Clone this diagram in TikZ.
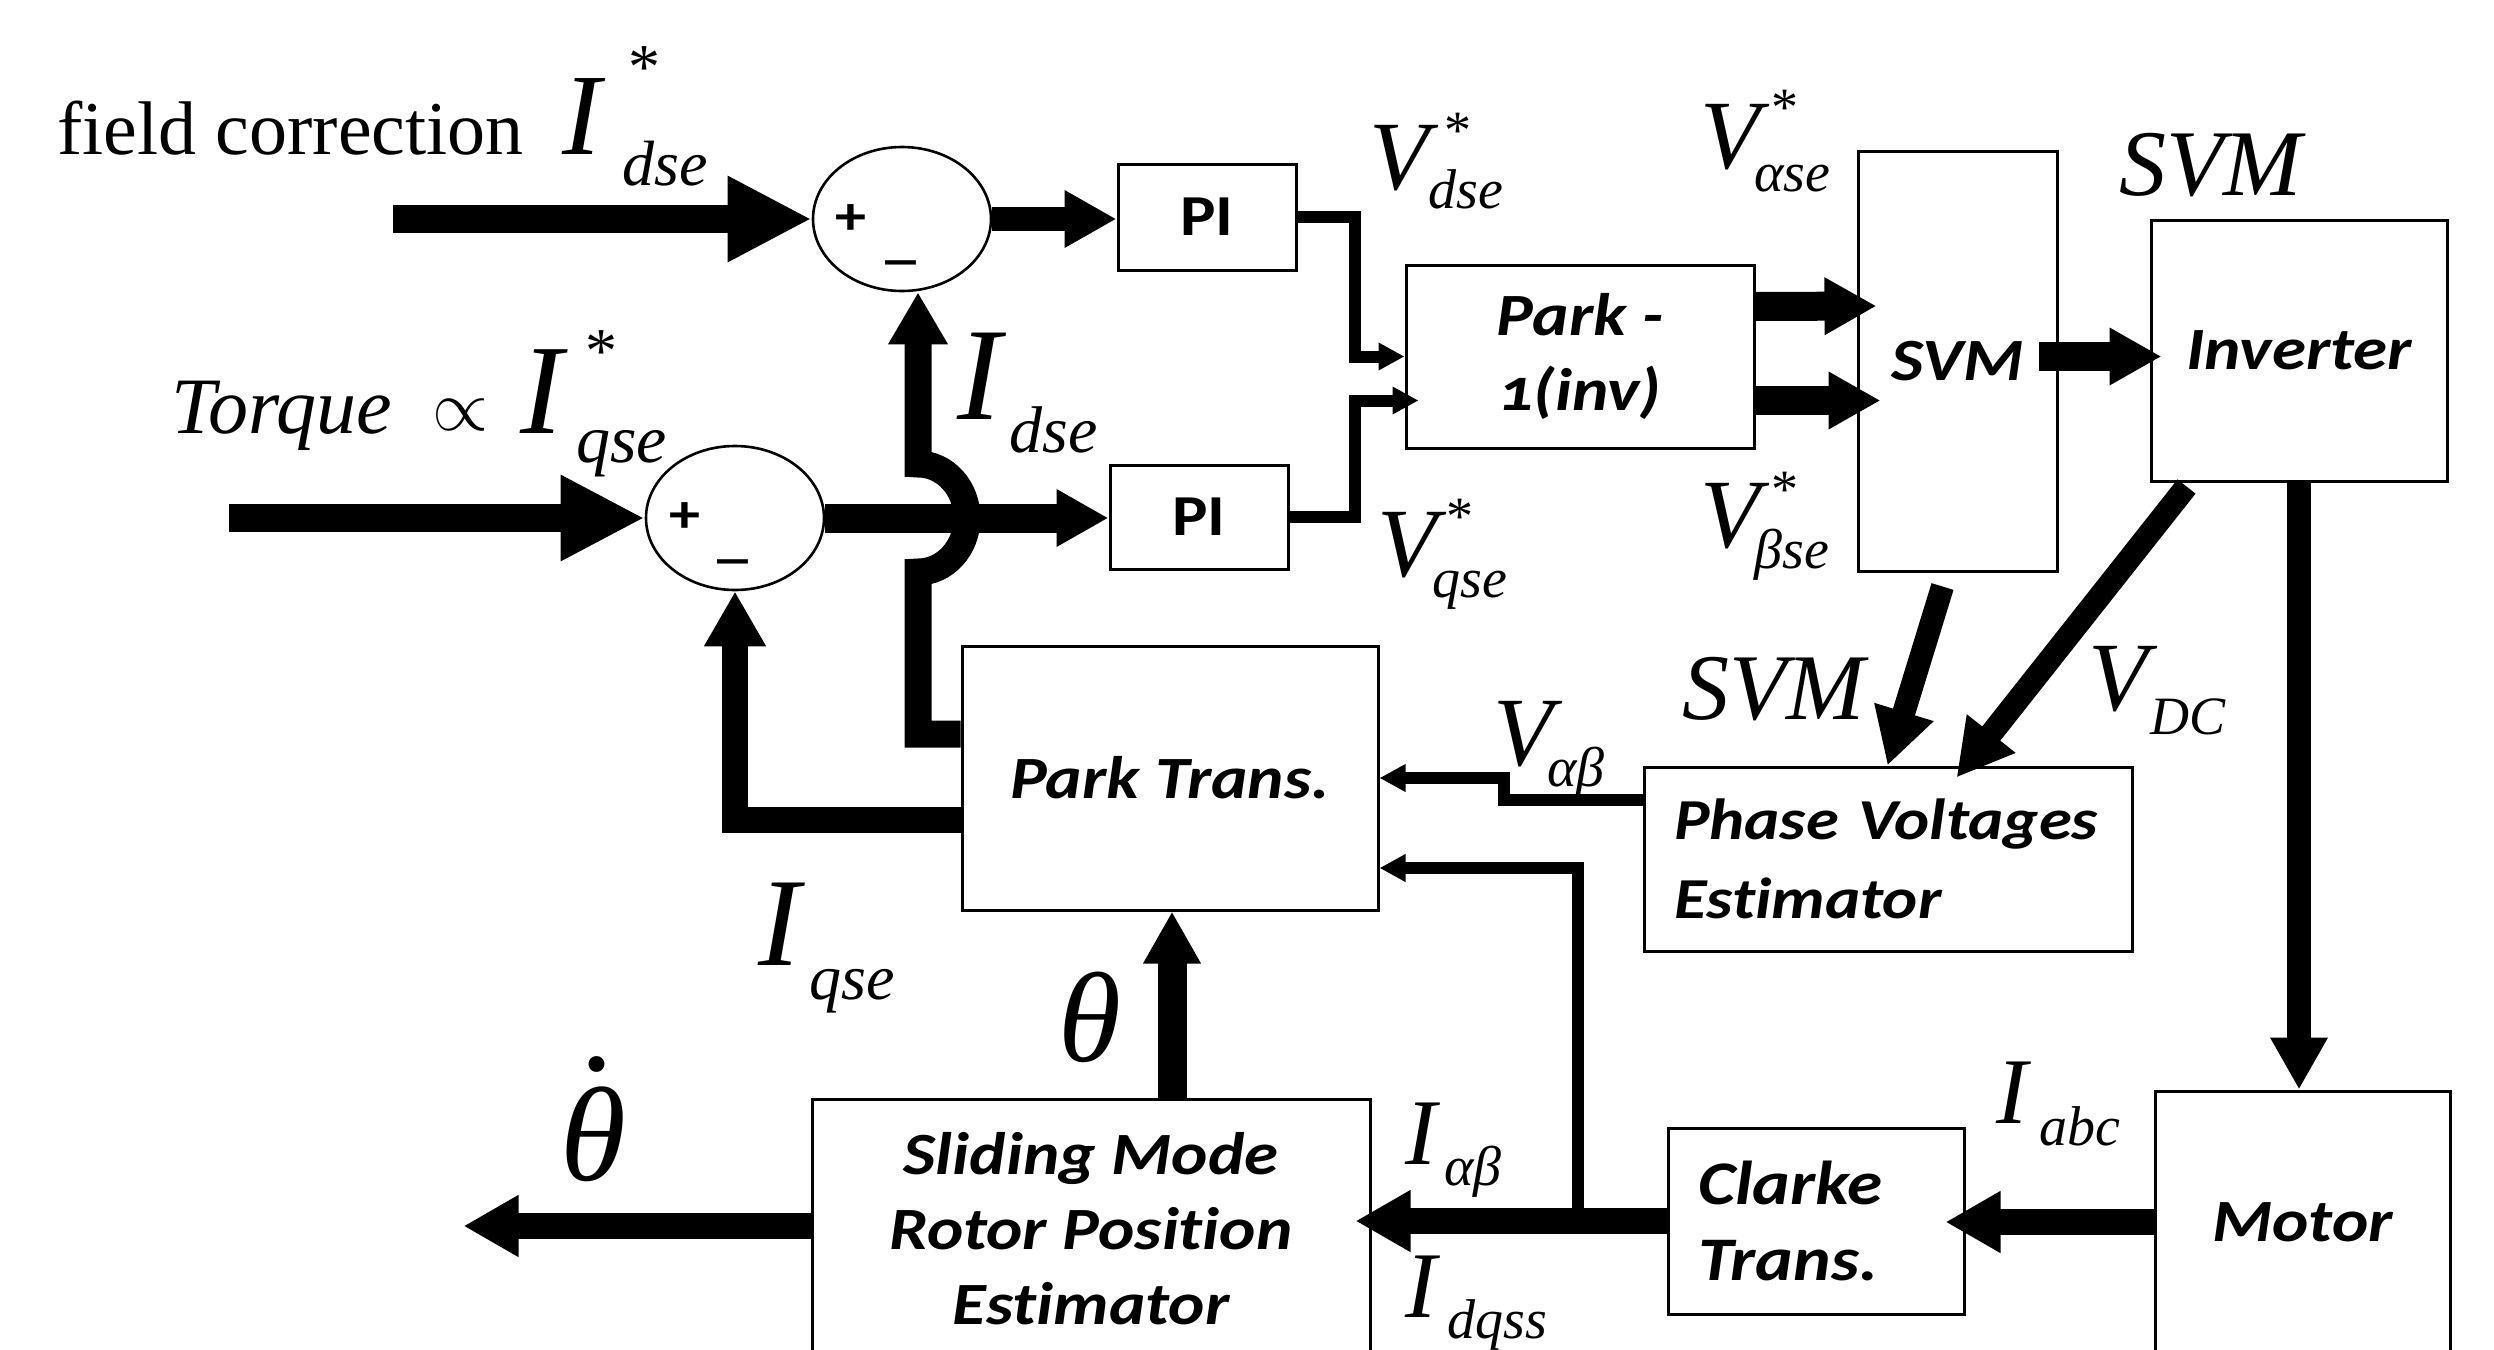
\RequirePackage{fix-cm}
\documentclass[tikz,border=0pt]{standalone}
\usepackage{fontspec}
\setmainfont{Liberation Serif}
\newfontfamily\bx[FakeStretch=1.15, Ligatures=NoCommon]{Carlito}
\usetikzlibrary{arrows.meta,calc,shapes.geometric}
\newcommand\fs[1]{\fontsize{#1}{#1}\selectfont}

\tikzset{
  blk/.style={draw, line width=1.5pt, rectangle, inner sep=0pt, align=center,
              font=\bx\bfseries\itshape\fontsize{30pt}{37.5pt}\selectfont},
  sumnode/.style={draw, line width=1.3pt, ellipse, inner sep=0pt,
              minimum width=89pt, minimum height=72pt},
  sgn/.style={inner sep=0pt, font=\bx\bfseries\fs{27pt}},
  mlet/.style={inner sep=0pt, anchor=base west},
  astk/.style={inner sep=0pt, anchor=north, font=\fs{32pt}},
  vastk/.style={inner sep=0pt, anchor=north, font=\fs{27pt}},
  inarrow/.style={line width=14pt, -{Triangle[length=42pt,width=40pt]}},
  bigarrow/.style={line width=13pt, -{Triangle[length=27.5pt,width=29pt]}},
  widearrow/.style={line width=14.5pt, -{Triangle[length=26pt,width=27pt]}},
  midarrow/.style={line width=12pt, -{Triangle[length=26pt,width=27pt]}},
  hoparrow/.style={line width=13.5pt, -{Triangle[length=26pt,width=28pt]}},
  diagarrow/.style={line width=11.5pt, -{Triangle[length=28pt,width=29pt]}},
  smallarrow/.style={line width=6pt, -{Triangle[length=13pt,width=13pt]}},
}

\begin{document}
\begin{tikzpicture}[x=0.5pt,y=-0.5pt]
\useasboundingbox (0,0) rectangle (2494,1349);
\clip (0,0) rectangle (2494,1349);
\fill[white] (0,0) rectangle (2494,1349);

% summing junctions
\node[sumnode] (S1) at (902,219) {};
\node[sumnode] (S2) at (735,518) {};
\node[sgn] (S1p) at (851,220) {+};
\node[sgn] (S1m) at (901,261) {\_};
\node[sgn] (S2p) at (685,518) {+};
\node[sgn] (S2m) at (733,560) {\_};

% blocks
\node[blk, font=\bx\bfseries\fs{29pt}, minimum width=89pt, minimum height=53pt] (PI1) at (1207,217) {PI};
\node[blk, font=\bx\bfseries\fs{29pt}, minimum width=89pt, minimum height=52pt] (PI2) at (1199,517) {PI};
\node[blk, minimum width=174pt, minimum height=91.5pt] (P1) at (1580,356.5) {Park -\\{\addfontfeature{Numbers=OldStyle}1(inv)}};
\node[blk, minimum width=99.5pt, minimum height=210pt] (SVM) at (1957.5,361) {SVM};
\node[blk, minimum width=148pt, minimum height=130.5pt] (INV) at (2299,350.5) {Inverter};
\node[blk, minimum width=208pt, minimum height=132pt] (PT) at (1170,778) {Park Trans.};
\node[blk, font=\bx\bfseries\itshape\fontsize{29pt}{39.5pt}\selectfont, text width=214pt, inner xsep=15pt,
      minimum height=92pt, align=left] (PVE) at (1888,859) {Phase Voltages\\Estimator};
\node[blk, font=\bx\bfseries\itshape\fontsize{31pt}{38pt}\selectfont, text width=118pt, inner xsep=15pt,
      minimum height=93pt, align=left] (CL) at (1816,1221) {Clarke\\Trans.};
\node[blk, minimum width=147.5pt, minimum height=131pt] (MOT) at (2302.5,1222) {Motor};
\node[blk, minimum width=279pt, minimum height=130pt] (SL) at (1091,1229)
      {Sliding Mode\\Rotor Position\\Estimator};

% reference inputs
\coordinate (in1) at (393,219);
\coordinate (in2) at (229,518);
\draw[inarrow] (in1) -- (S1.west);
\draw[inarrow] (in2) -- (S2.west);

% error signals to the PI controllers
\draw[midarrow] (S1.east) -- (S1.east -| PI1.west);
\draw[widearrow] (S2.east) -- (S2.east -| PI2.west);

% I_dse feedback, hopping over the q-axis error line
\coordinate (dcol) at ($(S1.south)+(16,0)$);
\coordinate (jc) at (dcol |- S2.east);
\draw[hoparrow] ($(PT.west)+(0,-44)$) -| ($(jc)+(0,54)$)
      arc[start angle=90, end angle=-90, x radius=49, y radius=54] -- (dcol);

% I_qse feedback
\draw[bigarrow] ($(PT.west)+(0,42)$) -| (S2.south);

% PI outputs into the inverse Park transform
\draw[smallarrow] (PI1.east) -- ++(57,0) |- (P1.west);
\draw[smallarrow] (PI2.east) -- ++(65,0) |- ($(P1.west)+(14,44)$);

% inverse Park to SVM
\draw[widearrow] ($(P1.east)+(0,-50)$) -- ($(SVM.west)+(20,-55)$);
\draw[widearrow] ($(P1.east)+(0,44)$) -- ($(SVM.west)+(24,39.5)$);

% SVM to inverter, inverter to motor
\draw[widearrow] ($(SVM.east)+(-20,-4.5)$) -- ($(INV.west)+(12,6)$);
\draw[midarrow] (INV.south) -- (INV.south |- MOT.north);

% switching states and DC link into the voltage estimator
\draw[diagarrow] ($(SVM.south)+(-15,14)$) -- ($(PVE.north west)+(245,0)$);
\draw[diagarrow] ($(INV.south west)+(37,4)$) -- ($(PVE.north west)+(314,12)$);

% estimated voltages to the Park transform
\draw[smallarrow] ($(PVE.west)+(0,-59)$) -- ++(-139,0) |- (PT.east);

% currents: motor -> Clarke -> observer / Park
\draw[bigarrow] (MOT.west) -- ($(MOT.west -| CL.east)+(-20,0)$);
\draw[bigarrow] (CL.west) -- ($(CL.west -| SL.east)+(-16,0)$);
\coordinate (br) at ($(CL.west)+(-89,0)$);
\draw[smallarrow] (br) |- ($(PT.east)+(0,90)$);

% observer outputs
\draw[bigarrow] ($(SL.west)+(0,-3)$) -- ++(-347,0);
\coordinate (thb) at ($(SL.north)+(81,0)$);
\draw[widearrow] (thb) -- (thb |- PT.south);

% ---- labels ----
\node[mlet, font=\fs{38pt}] (tFC) at (57,154) {field correction};
\node[mlet, font=\fs{58pt}\itshape] (a1) at (562,154) {I};
\node[astk] (a1x) at (644,46) {*};
\node[mlet, font=\fs{32pt}\itshape] (a1s) at (622,185) {dse};

\node[mlet, font=\fs{40pt}\itshape] (tTq) at (171,433) {Torque};
\node[inner sep=0pt, font=\fs{36pt}] (tPr) at (460,415) {$\propto$};
\node[mlet, font=\fs{64pt}\itshape] (a2) at (520,433) {I};
\node[astk] (a2x) at (601,330) {*};
\node[mlet, font=\fs{34pt}\itshape] (a2s) at (576,462) {qse};

\node[mlet, font=\fs{66pt}\itshape] (a3) at (957,419) {I};
\node[mlet, font=\fs{33pt}\itshape] (a3s) at (1009,452) {dse};

\node[mlet, font=\fs{49pt}\itshape] (v1) at (1369,189) {V};
\node[vastk] (v1x) at (1458,113) {*};
\node[mlet, font=\fs{28pt}\itshape] (v1s) at (1428,208) {dse};

\node[mlet, font=\fs{49pt}\itshape] (v2) at (1700,168) {V};
\node[vastk] (v2x) at (1785,90) {*};
\node[mlet, font=\fs{28pt}\itshape] (v2s) at (1754,191) {αse};

\node[mlet, font=\fs{49pt}\itshape] (v3) at (1700,547) {V};
\node[vastk] (v3x) at (1785,472) {*};
\node[mlet, font=\fs{28pt}\itshape] (v3s) at (1754,568) {βse};

\node[mlet, font=\fs{49pt}\itshape] (v4) at (1377,576) {V};
\node[vastk] (v4x) at (1460,499) {*};
\node[mlet, font=\fs{28pt}\itshape] (v4s) at (1432,597) {qse};

\node[mlet, font=\fs{47pt}\itshape] (svmA) at (2119,195) {SVM};
\node[mlet, font=\fs{47pt}\itshape] (svmB) at (1682,719) {SVM};

\node[mlet, font=\fs{49pt}\itshape] (v5) at (2088,710) {V};
\node[mlet, font=\fs{27pt}\itshape] (v5s) at (2150,734) {DC};

\node[mlet, font=\fs{49pt}\itshape] (v6) at (1493,765) {V};
\node[mlet, font=\fs{28pt}\itshape] (v6s) at (1547,786) {αβ};

\node[mlet, font=\fs{47pt}\itshape] (i1) at (1405,1164) {I};
\node[mlet, font=\fs{28pt}\itshape] (i1s) at (1444,1185) {αβ};
\node[mlet, font=\fs{47pt}\itshape] (i2) at (1405,1317) {I};
\node[mlet, font=\fs{28pt}\itshape] (i2s) at (1447,1338) {dqss};
\node[mlet, font=\fs{47pt}\itshape] (i3) at (1996,1123) {I};
\node[mlet, font=\fs{28pt}\itshape] (i3s) at (2039,1145) {abc};

\node[mlet, font=\fs{63pt}\itshape] (i4) at (758,965) {I};
\node[mlet, font=\fs{32pt}\itshape] (i4s) at (809,999) {qse};

\node[mlet, font=\fs{64pt}\itshape] (th) at (1058,1061) {θ};
\node[mlet, font=\fs{67pt}\itshape] (thd) at (560,1180)
     {\rlap{\hspace{11.5pt}\raisebox{55pt}{.}}θ};
\end{tikzpicture}
\end{document}
